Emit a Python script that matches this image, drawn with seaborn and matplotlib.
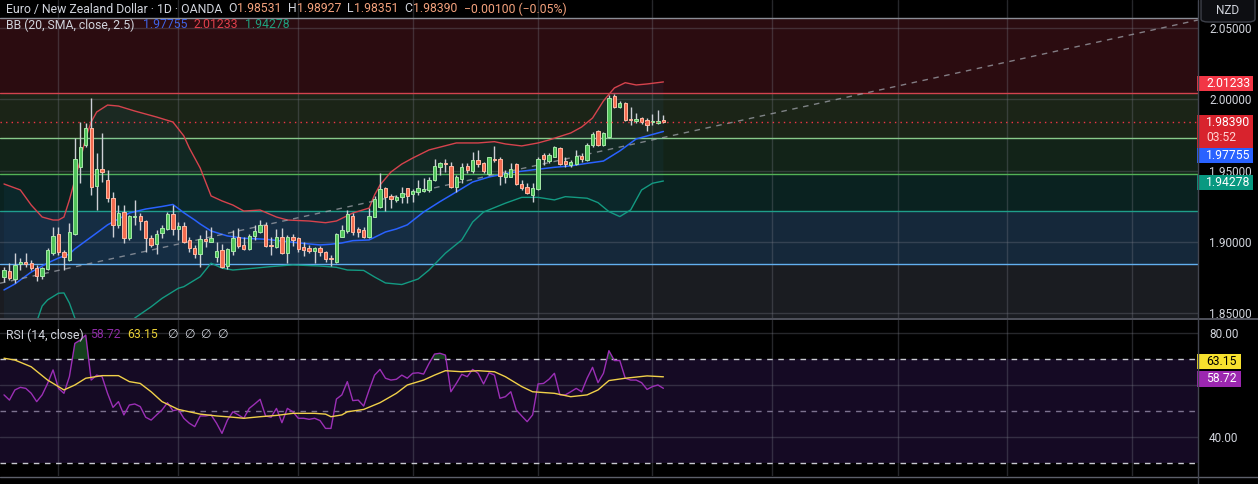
import numpy as np
import matplotlib
matplotlib.use("Agg")
import matplotlib.pyplot as plt
import seaborn as sns
from matplotlib.patches import Rectangle, FancyBboxPatch
from matplotlib.lines import Line2D

# ---------------- data ----------------
opens = [1.8756,1.8799,1.8738,1.8846,1.8858,1.8851,1.8816,1.8764,1.8811,1.8925,
         1.9054,1.8928,1.8874,1.9056,1.9529,1.9681,1.9798,1.9393,1.9513,1.9435,
         1.9307,1.9120,1.9209,1.9026,1.9178,1.9185,1.9148,1.9030,1.8986,1.9061,
         1.9089,1.9197,1.9089,1.9112,1.9014,1.8960,1.8916,1.9019,1.9002,1.8893,
         1.8944,1.8832,1.8937,1.9037,1.8979,1.8949,1.9042,1.9072,1.9120,1.8979,
         1.8967,1.9037,1.8921,1.9037,1.9026,1.8963,1.8960,1.8937,1.8956,1.8928,
         1.8886,1.8862,1.9037,1.9079,1.9183,1.9089,1.9084,1.9033,1.9178,1.9248,
         1.9377,1.9323,1.9295,1.9318,1.9377,1.9337,1.9353,1.9360,1.9365,1.9435,
         1.9524,1.9552,1.9534,1.9388,1.9440,1.9535,1.9501,1.9576,1.9552,1.9477,
         1.9583,1.9581,1.9458,1.9458,1.9545,1.9407,1.9388,1.9330,1.9370,1.9611,
         1.9571,1.9599,1.9658,1.9571,1.9541,1.9548,1.9606,1.9576,1.9681,1.9779,
         1.9681,1.9739,2.0025,1.9946,1.9978,1.9864,1.9852,1.9869,1.9857,1.9841,
         1.9834,1.98531]
highs = [1.8827,1.8851,1.8921,1.8886,1.8925,1.8874,1.8839,1.8827,1.8956,1.9108,
         1.9108,1.8944,1.9131,1.9728,1.9845,1.9833,2.0009,1.9623,1.9763,1.9506,
         1.9353,1.9260,1.9260,1.9190,1.9295,1.9202,1.9155,1.9049,1.9084,1.9120,
         1.9213,1.9260,1.9143,1.9143,1.9037,1.8979,1.9049,1.9084,1.9103,1.9002,
         1.8986,1.8956,1.9084,1.9096,1.9037,1.9056,1.9120,1.9155,1.9143,1.9033,
         1.9089,1.9096,1.9049,1.9056,1.9033,1.9002,1.8979,1.8967,1.8972,1.8939,
         1.8909,1.9061,1.9120,1.9225,1.9206,1.9103,1.9103,1.9237,1.9323,1.9487,
         1.9388,1.9337,1.9330,1.9388,1.9377,1.9370,1.9435,1.9447,1.9454,1.9581,
         1.9564,1.9581,1.9564,1.9470,1.9552,1.9552,1.9634,1.9646,1.9564,1.9599,
         1.9674,1.9594,1.9506,1.9552,1.9552,1.9435,1.9412,1.9412,1.9594,1.9623,
         1.9627,1.9674,1.9669,1.9594,1.9576,1.9646,1.9623,1.9697,1.9774,1.9786,
         1.9774,2.0032,2.0039,1.9992,1.9985,1.9946,1.9908,1.9880,1.9869,1.9899,
         1.9927,1.98927]
lows = [1.8721,1.8733,1.8710,1.8803,1.8827,1.8803,1.8729,1.8738,1.8803,1.8909,
        1.8909,1.8803,1.8869,1.9049,1.9412,1.9669,1.9330,1.9225,1.9423,1.9283,
        1.9037,1.9096,1.8995,1.9014,1.9120,1.9084,1.8932,1.8967,1.8914,1.9026,
        1.9084,1.9049,1.9014,1.8991,1.8932,1.8886,1.8827,1.8963,1.9002,1.8862,
        1.8816,1.8808,1.8909,1.8956,1.8944,1.8944,1.9014,1.9061,1.8967,1.8909,
        1.8956,1.8916,1.8851,1.8972,1.8932,1.8902,1.8921,1.8855,1.8902,1.8862,
        1.8832,1.8855,1.9033,1.9061,1.9049,1.9033,1.9026,1.9026,1.9174,1.9237,
        1.9220,1.9237,1.9283,1.9272,1.9276,1.9283,1.9330,1.9353,1.9353,1.9430,
        1.9470,1.9494,1.9377,1.9353,1.9412,1.9482,1.9482,1.9529,1.9482,1.9470,
        1.9564,1.9400,1.9412,1.9454,1.9400,1.9365,1.9337,1.9283,1.9365,1.9541,
        1.9552,1.9594,1.9541,1.9529,1.9529,1.9541,1.9564,1.9571,1.9669,1.9674,
        1.9674,1.9728,1.9939,1.9939,1.9852,1.9822,1.9834,1.9829,1.9782,1.9822,
        1.9829,1.98351]
closes = [1.8803,1.8745,1.8839,1.8862,1.8846,1.8816,1.8764,1.8816,1.8944,1.9042,
          1.8928,1.8893,1.9068,1.9583,1.9669,1.9798,1.9388,1.9510,1.9494,1.9307,
          1.9120,1.9202,1.9026,1.9183,1.9185,1.9148,1.9030,1.8979,1.9056,1.9096,
          1.9197,1.9089,1.9112,1.9002,1.8956,1.8916,1.9021,1.9009,1.9028,1.8937,
          1.8827,1.8949,1.9030,1.8972,1.8949,1.9042,1.9079,1.9120,1.8972,1.8972,
          1.9037,1.8921,1.9037,1.9014,1.8949,1.8944,1.8939,1.8960,1.8932,1.8879,
          1.8879,1.9056,1.9084,1.9195,1.9072,1.9072,1.9033,1.9183,1.9300,1.9372,
          1.9318,1.9304,1.9318,1.9346,1.9323,1.9360,1.9377,1.9370,1.9435,1.9534,
          1.9552,1.9545,1.9384,1.9454,1.9524,1.9506,1.9576,1.9548,1.9501,1.9594,
          1.9576,1.9463,1.9487,1.9510,1.9407,1.9377,1.9346,1.9377,1.9583,1.9583,
          1.9611,1.9665,1.9548,1.9548,1.9564,1.9604,1.9581,1.9681,1.9758,1.9681,
          1.9763,2.0009,1.9950,1.9978,1.9857,1.9857,1.9862,1.9841,1.9822,1.9850,
          1.9850,1.98390]

bb_upper_idx = [0,3,5,7,9,10,11,12,13,14,15,16,17,19,21,24,28,31,33,34,36,38,40,42,44,47,
                50,52,56,59,61,64,67,68,69,71,73,75,78,83,87,90,92,95,98,100,104,106,108,
                110,112,114,116,118,121]
bb_upper_vals = [1.9407,1.9365,1.9259,1.9175,1.9154,1.9154,1.9175,1.9295,1.9435,1.9575,
                 1.9730,1.9842,1.9912,1.9961,1.9954,1.9919,1.9877,1.9842,1.9744,1.9660,
                 1.9519,1.9323,1.9288,1.9259,1.9217,1.9224,1.9175,1.9154,1.9147,1.9135,
                 1.9147,1.9203,1.9238,1.9330,1.9400,1.9491,1.9547,1.9589,1.9646,1.9695,
                 1.9695,1.9704,1.9688,1.9674,1.9695,1.9716,1.9765,1.9807,1.9870,1.9990,
                 2.0081,2.0118,2.0102,2.0109,2.01233]
bb_mid_idx = [0,2,5,8,10,12,13,15,17,19,21,23,26,29,31,33,35,36,38,41,44,48,52,56,58,60,62,
              64,67,70,72,74,77,80,83,86,89,93,97,101,104,107,110,113,116,121]
bb_mid_vals = [1.8663,1.8705,1.8789,1.8852,1.8887,1.8915,1.8951,1.9007,1.9063,1.9120,
               1.9161,1.9203,1.9231,1.9249,1.9263,1.9205,1.9154,1.9126,1.9077,1.9042,
               1.9026,1.9019,1.9002,1.8986,1.8979,1.8984,1.8993,1.9009,1.9014,1.9070,
               1.9091,1.9120,1.9210,1.9283,1.9351,1.9421,1.9456,1.9487,1.9506,1.9524,
               1.9534,1.9552,1.9568,1.9639,1.9723,1.97755]
bb_lower_idx = [0,3,6,7,8,10,11,12,13,14,16,19,21,24,27,29,32,33,36,38,40,42,46,49,53,58,61,
                63,66,68,70,73,76,78,81,84,86,88,92,95,98,101,103,107,109,111,113,115,117,
                119,121]
bb_lower_vals = [1.7919,1.8085,1.8440,1.8550,1.8593,1.8640,1.8642,1.8571,1.8466,1.8385,
                 1.8228,1.8279,1.8368,1.8466,1.8545,1.8604,1.8675,1.8686,1.8756,1.8851,
                 1.8816,1.8803,1.8816,1.8827,1.8839,1.8831,1.8822,1.8803,1.8800,1.8754,
                 1.8712,1.8701,1.8740,1.8803,1.8921,1.9014,1.9140,1.9210,1.9272,1.9313,
                 1.9313,1.9295,1.9318,1.9307,1.9276,1.9213,1.9178,1.9225,1.9365,1.9412,
                 1.94278]

rsi_vals = [56.2,54.2,58.1,59.1,58.7,56.8,53.6,56.2,60.6,65.8,58.7,56.8,63.2,76.0,77.3,79.2,
            61.9,63.8,63.2,56.8,51.4,53.6,48.5,52.3,52.7,51.7,47.6,46.5,48.5,50.4,53.2,50.1,
            50.6,47.2,45.3,44.0,48.1,48.1,48.5,45.3,41.4,46.5,49.7,48.5,47.2,51.0,52.7,54.5,
            48.1,47.6,51.0,45.5,51.0,49.7,47.2,47.2,46.8,47.2,46.3,43.3,43.3,54.6,56.2,61.3,
            54.0,54.2,51.9,58.1,63.8,66.0,62.6,61.9,62.2,63.8,62.6,64.5,64.7,64.2,68.3,71.9,
            72.2,71.5,57.4,60.6,64.1,63.2,66.0,64.5,60.4,64.7,63.8,54.9,55.5,57.4,50.4,48.1,
            45.9,48.5,60.4,60.6,62.2,64.5,56.2,56.2,57.4,58.7,57.4,62.6,66.8,60.9,64.5,73.2,
            69.4,69.4,62.6,61.9,61.9,60.9,58.3,59.4,60.0,58.72]
rsi_ma_idx = [0,2,5,8,11,13,15,18,21,23,25,27,29,32,36,39,42,44,47,50,53,57,59,60,62,63,66,
              69,72,74,77,79,81,84,87,90,92,95,97,101,104,107,109,111,114,118,121]
rsi_ma_vals = [70.3,69.6,67.0,61.9,58.1,60.0,62.6,63.6,63.6,61.3,60.6,57.4,53.6,50.6,48.8,
               48.1,47.6,47.2,47.8,48.3,49.1,49.1,48.8,47.8,48.5,49.7,50.6,53.2,56.8,60.0,
               61.9,63.8,65.5,65.1,65.5,65.1,63.2,59.4,57.4,56.8,55.5,56.2,58.1,61.7,62.6,
               63.5,63.15]

fib_levels = [2.0572, 2.0048, 1.9730, 1.9477, 1.9217, 1.8845]
trend_idx = [-0.73, 219.1]
trend_price = [1.8710, 2.0558]
month_starts = [10, 32, 54, 75, 98, 119, 141, 164, 184, 207]
price_ticks = [1.85, 1.90, 1.95, 2.00, 2.05]
rsi_grid = [40, 60, 80]
rsi_labels = [40, 80]
rsi_bands = [70, 50, 30]

title = "Euro / New Zealand Dollar \u00b7 1D \u00b7 OANDA"
ohlc_names = ["O", "H", "L", "C"]
change_text = "\u22120.00100 (\u22120.05%)"
bb_title = "BB (20, SMA, close, 2.5)"
rsi_title = "RSI (14, close)"
na_sign = "\u2205"
countdown = "03:52"
currency = "NZD"

# ---------------- style ----------------
sns.set_style("dark")
plt.rcParams['font.family'] = ['Roboto', 'DejaVu Sans']

W, H = 1258, 484
fig = plt.figure(figsize=(W / 100, H / 100), dpi=100, facecolor='black')

def fx(px):
    return px / W

def fy(py):
    return 1 - py / H

PANE_R = 1198
ax = fig.add_axes([0, fy(318), fx(PANE_R), 318 / H])
ax2 = fig.add_axes([0, fy(476), fx(PANE_R), 156 / H])

n = len(closes)
idx = np.arange(n)
o = np.array(opens); c = np.array(closes); hi = np.array(highs); lo = np.array(lows)
XMIN, XMAX = -0.734, 219.1

for a in (ax, ax2):
    a.set_facecolor('black')
    for s in a.spines.values():
        s.set_visible(False)
    a.set_axisbelow(True)
    a.set_xticks(month_starts)
    a.tick_params(axis='x', length=0, labelbottom=False)
    a.grid(True, color='#787b86', alpha=0.32, lw=1)

# --- fib zones ---
zone_colors = ['#2b0c10', '#1b2417', '#122318', '#0a2220', '#15283a']
line_colors = ['#8a8d96', '#d2434e', '#88c98a', '#52b257', '#1f9e8a', '#62b0f0']
for k in range(len(fib_levels) - 1):
    ax.axhspan(fib_levels[k + 1], fib_levels[k], color=zone_colors[k], lw=0, zorder=0.1)
ax.axhspan(1.70, fib_levels[-1], color='#1a1c21', lw=0, zorder=0.1)
for lev, col in zip(fib_levels, line_colors):
    ax.axhline(lev, color=col, lw=1, zorder=2)

# --- BB fill ---
ax.fill(np.r_[bb_upper_idx, bb_lower_idx[::-1]], np.r_[bb_upper_vals, bb_lower_vals[::-1]],
        color='#2196f3', alpha=0.05, lw=0, zorder=2)

sns.lineplot(x=bb_upper_idx, y=bb_upper_vals, ax=ax, color='#d6434d', lw=1, estimator=None, zorder=3)
sns.lineplot(x=bb_mid_idx, y=bb_mid_vals, ax=ax, color='#2962ff', lw=1.1, estimator=None, zorder=3)
sns.lineplot(x=bb_lower_idx, y=bb_lower_vals, ax=ax, color='#139a82', lw=1, estimator=None, zorder=3)

# trend line
ax.plot(trend_idx, trend_price, color='#a0a3ab', lw=1, ls=(0, (4, 4)), alpha=0.75, zorder=3)

# --- candles ---
up = c >= o
body_lo = np.minimum(o, c)
body_h = np.maximum(np.abs(c - o), 0.0003)
ax.vlines(idx, lo, hi, color='#cdd0d6', lw=1, zorder=4)
ax.bar(idx[up], body_h[up], bottom=body_lo[up], width=0.62, color='#4fc259',
       edgecolor='#a6e8a8', linewidth=0.7, zorder=5)
ax.bar(idx[~up], body_h[~up], bottom=body_lo[~up], width=0.62, color='#f26b4f',
       edgecolor='#ffb9a3', linewidth=0.7, zorder=5)

# current price dotted line
ax.axhline(closes[-1], color='#f23645', lw=1, ls=(0, (1, 3)), zorder=6)

ax.set_xlim(XMIN, XMAX)
ax.set_ylim(1.84661, 2.06985)
ax.set_xlabel(''); ax.set_ylabel('')
ax.yaxis.tick_right()
ax.set_yticks(price_ticks)
ax.set_yticklabels([f"{v:.5f}" for v in price_ticks])
ax.tick_params(axis='y', length=0, pad=8, labelsize=8.5, labelcolor='#d1d4dc')

# ---------------- RSI pane ----------------
ax2.axhspan(rsi_bands[-1], rsi_bands[0], color='#150a24', lw=0, zorder=0.1)
rsi = np.array(rsi_vals)
ax2.fill_between(idx, rsi_bands[0], rsi, where=rsi > rsi_bands[0], interpolate=True,
                 color='#1d5a2a', alpha=0.7, lw=0, zorder=2)
for lev in rsi_bands:
    ax2.axhline(lev, color='#c8cad0' if lev != 50 else '#7d7390', lw=1,
                ls=(0, (4, 4)), zorder=2)
sns.lineplot(x=idx, y=rsi_vals, ax=ax2, color='#9b2fb5', lw=1, estimator=None, zorder=3)
sns.lineplot(x=rsi_ma_idx, y=rsi_ma_vals, ax=ax2, color='#f0d049', lw=1, estimator=None, zorder=4)
ax2.set_xlim(XMIN, XMAX)
ax2.set_ylim(25, 85)
ax2.set_xlabel(''); ax2.set_ylabel('')
ax2.yaxis.tick_right()
ax2.set_yticks(rsi_grid)
ax2.set_yticklabels([f"{v:.2f}" if v in rsi_labels else "" for v in rsi_grid])
ax2.tick_params(axis='y', length=0, pad=8, labelsize=8.5, labelcolor='#d1d4dc')

# ---------------- separators ----------------
fig.add_artist(Line2D([0, 1], [fy(318.5), fy(318.5)], transform=fig.transFigure,
                      color='#5d606b', lw=1.2))
fig.add_artist(Line2D([0, 1], [fy(476.5), fy(476.5)], transform=fig.transFigure,
                      color='#5d606b', lw=1))
fig.add_artist(Line2D([fx(PANE_R - 0.5), fx(PANE_R - 0.5)], [0, 1], transform=fig.transFigure,
                      color='#434651', lw=1))

# ---------------- tags ----------------
def tag(y0, y1, fc, x1=1253):
    fig.add_artist(Rectangle((fx(1197), fy(y1)), fx(x1) - fx(1197), (y1 - y0) / H,
                             transform=fig.transFigure, facecolor=fc, edgecolor='none'))

def ptxt(x, y, s, color, size=8.8, **kw):
    return fig.text(fx(x), fy(y), s, color=color, fontsize=size, va='center', ha='left', **kw)

tag(76, 91, '#f23645'); ptxt(1206, 83.5, f"{bb_upper_vals[-1]:.5f}", 'white', 8.7)
tag(115, 148, '#d8232d'); ptxt(1206, 123, f"{closes[-1]:.5f}", 'white', 8.7)
ptxt(1206, 137.5, countdown, '#ffd3d3', 8.7)
tag(148, 163, '#2962ff'); ptxt(1206, 155.5, f"{bb_mid_vals[-1]:.5f}", 'white', 8.7)
tag(175, 190, '#089981'); ptxt(1206, 182.5, f"{bb_lower_vals[-1]:.5f}", 'white', 8.7)
tag(354, 369, '#f7e12e', x1=1241); ptxt(1206, 361.5, f"{rsi_ma_vals[-1]:.2f}", 'black', 8.7)
tag(371, 387, '#9c27b0', x1=1241); ptxt(1206, 379, f"{rsi_vals[-1]:.2f}", 'white', 8.7)

# NZD button
fig.add_artist(FancyBboxPatch((fx(1201), fy(22)), fx(1255) - fx(1201), 28 / H,
                              boxstyle="round,pad=0,rounding_size=0.006",
                              transform=fig.transFigure, facecolor='#0d0e12',
                              edgecolor='#3d4049', lw=1))
fig.text(fx(1228), fy(11), currency, color='#d1d4dc', fontsize=8.5, ha='center', va='center')

# ---------------- legends (chained so segments never collide) ----------------
renderer = fig.canvas.get_renderer()

def chain(x, y, items, size=8.8):
    for s, col, gap in items:
        x += gap
        t = ptxt(x, y, s, col, size)
        x = t.get_window_extent(renderer).x1
    return x

lab = '#d1d4dc'
val = '#f4a27d'
head = [(title, lab, 0)]
for name, v in zip(ohlc_names, [opens[-1], highs[-1], lows[-1], closes[-1]]):
    head.append((name, lab, 6))
    head.append((f"{v:.5f}", val, 0.5))
head.append((change_text, val, 7))
chain(6, 9, head)

chain(6, 25, [(bb_title, lab, 0),
              (f"{bb_mid_vals[-1]:.5f}", '#3f63e6', 8),
              (f"{bb_upper_vals[-1]:.5f}", '#e2404c', 7),
              (f"{bb_lower_vals[-1]:.5f}", '#1fa07e', 6)])

chain(6, 335, [(rsi_title, lab, 0),
               (f"{rsi_vals[-1]:.2f}", '#8e2ca6', 6),
               (f"{rsi_ma_vals[-1]:.2f}", '#e8cf36', 7),
               (na_sign, lab, 9), (na_sign, lab, 6), (na_sign, lab, 6), (na_sign, lab, 6)])

fig.savefig("out.png", dpi=100, facecolor='black')
